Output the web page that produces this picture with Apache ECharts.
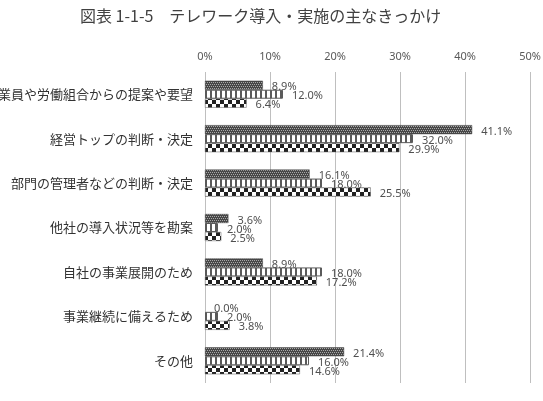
<!DOCTYPE html>
<html>
<head>
<meta charset="utf-8">
<script src="https://cdn.jsdelivr.net/npm/echarts@6/dist/echarts.min.js"></script>
<style>
html,body{margin:0;padding:0;background:#fff;}
#chartsDiv{width:543px;height:401px;}
</style>
</head>
<body>
<div id="chartsDiv"></div>
<script>
var categories = ['従業員や労働組合からの提案や要望','経営トップの判断・決定','部門の管理者などの判断・決定','他社の導入状況等を勘案','自社の事業展開のため','事業継続に備えるため','その他'];
var series1 = [8.9, 41.1, 16.1, 3.6, 8.9, 0.0, 21.4];
var series2 = [12.0, 32.0, 18.0, 2.0, 18.0, 2.0, 16.0];
var series3 = [6.4, 29.9, 25.5, 2.5, 17.2, 3.8, 14.6];
var tickLabels = ['0%','10%','20%','30%','40%','50%'];

// 塗りつぶしパターン
function makePattern(w, h, draw){
	var c = document.createElement('canvas');
	c.width = w; c.height = h;
	var ctx = c.getContext('2d');
	draw(ctx);
	return {image: c, repeat: 'repeat'};
}
var dotPattern = makePattern(4, 4, function(ctx){
	ctx.fillStyle = '#474747';
	ctx.fillRect(0, 0, 4, 4);
	ctx.fillStyle = '#a8a8a8';
	ctx.fillRect(0, 0, 1, 1);
	ctx.fillRect(2, 0, 1, 1);
	ctx.fillRect(1, 2, 1, 1);
	ctx.fillRect(3, 2, 1, 1);
});
var stripePattern = makePattern(5, 5, function(ctx){
	ctx.fillStyle = '#ffffff';
	ctx.fillRect(0, 0, 5, 5);
	ctx.fillStyle = '#5a5a5a';
	ctx.fillRect(0, 0, 2, 5);
});
var checkPattern = makePattern(8, 8, function(ctx){
	ctx.fillStyle = '#ffffff';
	ctx.fillRect(0, 0, 8, 8);
	ctx.fillStyle = '#222222';
	ctx.fillRect(0, 0, 4, 4);
	ctx.fillRect(4, 4, 4, 4);
});

function pct(p){ return p.value.toFixed(1) + '%'; }

var labelOpt = {
	show: true,
	position: 'right',
	distance: 9,
	offset: [0, 2],
	formatter: pct,
	color: '#505050',
	fontSize: 11,
	fontFamily: 'Noto Sans'
};

// 0%のときは枠線を描かない
function barItems(arr){
	var out = [];
	for (var i = 0; i < arr.length; i++) {
		if (arr[i] === 0) out.push({value: arr[i], itemStyle: {borderWidth: 0}});
		else out.push(arr[i]);
	}
	return out;
}

var chart = echarts.init(document.getElementById('chartsDiv'));
var opt = {
	backgroundColor: '#fff',
	animation: false,
	title: {
		text: '図表 1-1-5　テレワーク導入・実施の主なきっかけ',
		left: 75,
		top: 3,
		textStyle: {
			fontSize: 16,
			fontWeight: 'normal',
			color: '#404040',
			fontFamily: 'Noto Sans CJK JP'
		}
	},
	grid: {left: 205, right: 13, top: 72, bottom: 18, containLabel: false, outerBoundsMode: 'none'},
	xAxis: {
		type: 'value',
		position: 'top',
		min: 0,
		max: 50,
		interval: 10,
		axisLine: {show: false},
		axisTick: {show: false},
		axisLabel: {
			margin: 10,
			color: '#595959',
			fontSize: 11,
			fontFamily: 'Noto Sans',
			formatter: function(v){ return tickLabels[Math.round(v / 10)]; }
		},
		splitLine: {lineStyle: {color: '#bfbfbf', width: 1}}
	},
	yAxis: {
		type: 'category',
		inverse: true,
		data: categories,
		axisLine: {show: false},
		axisTick: {show: false},
		axisLabel: {
			margin: 12,
			color: '#333',
			fontSize: 13,
			fontFamily: 'Noto Sans CJK JP'
		}
	},
	series: [
		{type: 'bar', data: barItems(series1), barWidth: 9, barGap: '0%',
			itemStyle: {color: dotPattern, borderColor: '#474747', borderWidth: 0.5},
			label: labelOpt},
		{type: 'bar', data: barItems(series2), barWidth: 9, barGap: '0%',
			itemStyle: {color: stripePattern, borderColor: '#5a5a5a', borderWidth: 1},
			label: labelOpt},
		{type: 'bar', data: barItems(series3), barWidth: 9, barGap: '0%',
			itemStyle: {color: checkPattern, borderColor: '#555', borderWidth: 0.5},
			label: labelOpt}
	]
};
chart.setOption(opt);
</script>
</body>
</html>
